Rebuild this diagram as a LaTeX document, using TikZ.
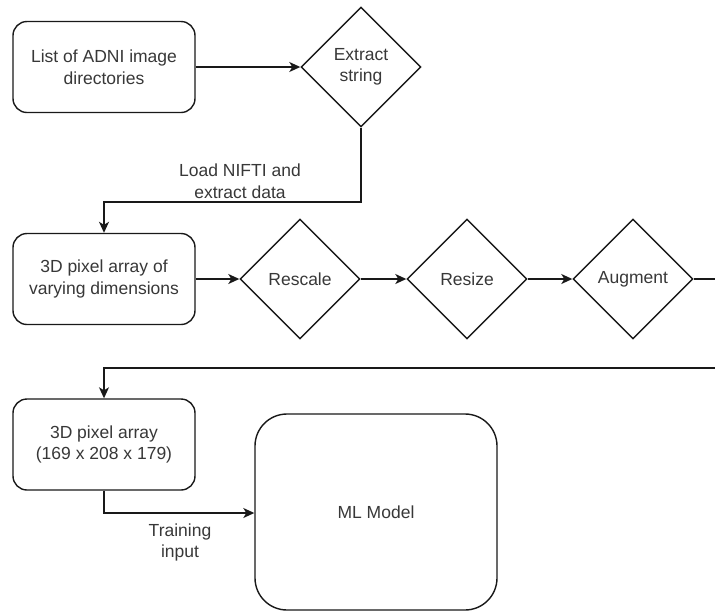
\documentclass[tikz,border=0pt]{standalone}
\usepackage{fontspec}
\setmainfont{Liberation Sans}
\usetikzlibrary{shapes.geometric,arrows.meta}

\begin{document}
\begin{tikzpicture}[x=1pt,y=-1pt,
  every node/.style={font=\fontsize{17.5}{21.5}\selectfont, text=black!78},
  line/.style={draw=black!90, line width=1.4pt},
  arr/.style={line, -{Stealth[length=11pt,width=10pt,inset=3pt]}},
  stepbox/.style={line, rounded corners=14pt, minimum width=182pt, minimum height=91pt,
    align=center, inner sep=0pt, fill=white},
  decision/.style={line, diamond, minimum width=120pt, minimum height=120pt,
    inner sep=0pt, align=center, fill=white},
  note/.style={align=center, inner sep=0pt}
]
\useasboundingbox (0,0) rectangle (715,611);

% processing steps
\node[stepbox] (dirs)  at (104,67)    {List of ADNI image\\directories};
\node[decision] (extract) at (361,67) {Extract\\string};
\node[stepbox] (raw)   at (104,279)   {3D pixel array of\\varying dimensions};
\node[decision] (rescale) at (300,279) {Rescale};
\node[decision] (resize)  at (467,279) {Resize};
\node[decision] (augment) at (633,279) {Augment};
\node[stepbox] (final) at (104,444.5) {3D pixel array\\(169 x 208 x 179)};
\node[line, rounded corners=32pt, minimum width=242pt, minimum height=196pt, inner sep=0pt]
  (model) at (376,512) {ML Model};

% bends and free ends of the connectors
\coordinate (k1) at (361,202);
\coordinate (e1) at (715,279);
\coordinate (e2) at (715,368);
\coordinate (k3) at (104,513);

% connectors
\draw[arr] (dirs.east) -- (extract.west);
\draw[arr] (extract.south) -- (k1) -| (raw.north);
\draw[arr] (raw.east) -- (rescale.west);
\draw[arr] (rescale.east) -- (resize.west);
\draw[arr] (resize.east) -- (augment.west);
\draw[line] (augment.east) -- (e1);
\draw[arr] (e2) -| (final.north);
\draw[arr] (final.south) -- (k3) -- (k3 -| model.west);

% connector labels
\node[note] (lbl1) at (240,181) {Load NIFTI and\\extract data};
\node[note] (lbl2) at (180,542.5) {Training\\input};
\end{tikzpicture}
\end{document}
